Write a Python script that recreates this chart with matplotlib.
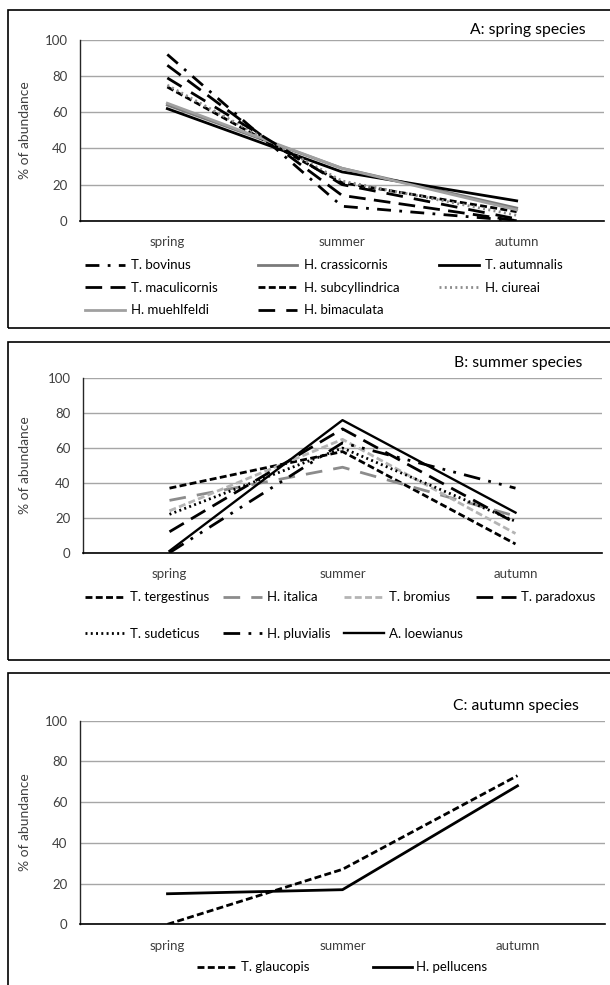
import matplotlib
matplotlib.use('Agg')
import matplotlib.pyplot as plt
from matplotlib.patches import Rectangle

# seasons on the x axis
seasons = ['spring', 'summer', 'autumn']

# A: spring species (% of abundance per season)
a_names = ['T. bovinus', 'H. crassicornis', 'T. autumnalis', 'T. maculicornis',
           'H. subcyllindrica', 'H. ciureai', 'H. muehlfeldi', 'H. bimaculata']
a_bovinus = [92, 8, 0]
a_crassicornis = [64, 29, 7]
a_autumnalis = [62, 27, 11]
a_maculicornis = [86, 14, 0]
a_subcyllindrica = [74, 21, 5]
a_ciureai = [75, 22, 3]
a_muehlfeldi = [65, 29, 6]
a_bimaculata = [79, 20, 1]

# B: summer species
b_names = ['T. tergestinus', 'H. italica', 'T. bromius', 'T. paradoxus',
           'T. sudeticus', 'H. pluvialis', 'A. loewianus']
b_tergestinus = [37, 58, 5]
b_italica = [30, 49, 21]
b_bromius = [24, 65, 11]
b_paradoxus = [12, 71, 17]
b_sudeticus = [22, 60, 18]
b_pluvialis = [0, 63, 37]
b_loewianus = [1, 76, 23]

# C: autumn species
c_names = ['T. glaucopis', 'H. pellucens']
c_glaucopis = [0, 27, 73]
c_pellucens = [15, 17, 68]

plt.rcParams['font.family'] = ['Lato', 'DejaVu Sans']

W, H = 610, 985
fig = plt.figure(figsize=(W / 100, H / 100), dpi=100)

def fx(px):
    return px / W

def fy(px):
    return 1 - px / H

# panel frames
for top, bot in [(10, 328), (342, 660), (673, 992)]:
    fig.patches.append(Rectangle((fx(8), fy(bot)), fx(612) - fx(8), fy(top) - fy(bot),
                                 transform=fig.transFigure, fill=False,
                                 edgecolor='black', linewidth=1.2))

FS = 9.5

def make_axes(left, right, top, bottom):
    ax = fig.add_axes([fx(left), fy(bottom), fx(right) - fx(left), fy(top) - fy(bottom)])
    ax.set_xlim(-0.5, 2.5)
    ax.set_ylim(0, 100)
    ax.set_yticks(range(0, 101, 20))
    ax.set_xticks(range(3))
    ax.set_xticklabels(seasons)
    ax.tick_params(length=0, labelsize=FS, colors='#404040')
    ax.tick_params(axis='x', pad=11)
    ax.tick_params(axis='y', pad=9)
    ax.yaxis.grid(True, color='#a6a6a6', linewidth=1.0)
    ax.set_axisbelow(True)
    for s in ['top', 'right']:
        ax.spines[s].set_visible(False)
    ax.spines['left'].set_color('#262626')
    ax.spines['left'].set_linewidth(1.0)
    ax.spines['bottom'].set_color('black')
    ax.spines['bottom'].set_linewidth(1.2)
    ax.set_ylabel('% of abundance', fontsize=10, color='#404040')
    ax.yaxis.set_label_coords(-(left - 31) / (right - left), 0.5)
    return ax

x = range(3)
LW = 2.0

# ---- A ----
axA = make_axes(80, 604, 40, 220.7)
a_styles = [
    (a_bovinus, 'black', (0, (5, 3, 1, 3))),
    (a_crassicornis, '#7a7a7a', '-'),
    (a_autumnalis, 'black', '-'),
    (a_maculicornis, 'black', (0, (6, 3))),
    (a_subcyllindrica, 'black', (0, (2.5, 1.2))),
    (a_ciureai, '#8c8c8c', (0, (0.7, 1.2))),
    (a_muehlfeldi, '#a0a0a0', '-'),
    (a_bimaculata, 'black', (0, (6, 4))),
]
la = []
for (vals, col, ls), nm in zip(a_styles, a_names):
    ln, = axA.plot(x, vals, color=col, linestyle=ls, linewidth=LW, label=nm)
    la.append(ln)
order = [0, 3, 6, 1, 4, 7, 2, 5]
axA.legend([la[i] for i in order], [a_names[i] for i in order], ncol=3,
           loc='upper left', bbox_to_anchor=(fx(80), fy(254)),
           bbox_transform=fig.transFigure, frameon=False, fontsize=FS,
           handlelength=3.0, handletextpad=0.5, columnspacing=3.0,
           labelspacing=0.79, borderaxespad=0)
fig.text(fx(586), fy(30), 'A: spring species', ha='right', va='center', fontsize=11.3)

# ---- B ----
axB = make_axes(83, 602, 378.3, 552.7)
b_styles = [
    (b_tergestinus, 'black', (0, (2.5, 1.2))),
    (b_italica, '#8c8c8c', (0, (6, 4))),
    (b_bromius, '#b4b4b4', (0, (2.5, 1.2))),
    (b_paradoxus, 'black', (0, (6, 3))),
    (b_sudeticus, 'black', (0, (0.7, 1.2))),
    (b_pluvialis, 'black', (0, (6, 3, 1, 3, 1, 3))),
    (b_loewianus, 'black', '-'),
]
lb = []
for (vals, col, ls), nm in zip(b_styles, b_names):
    ln, = axB.plot(x, vals, color=col, linestyle=ls,
                   linewidth=1.7 if ls == '-' else LW, label=nm)
    lb.append(ln)
order = [0, 4, 1, 5, 2, 6, 3]
axB.legend([lb[i] for i in order], [b_names[i] for i in order], ncol=4,
           loc='upper left', bbox_to_anchor=(fx(80), fy(586)),
           bbox_transform=fig.transFigure, frameon=False, fontsize=FS,
           handlelength=3.0, handletextpad=0.4, columnspacing=1.0,
           labelspacing=1.85, borderaxespad=0)
fig.text(fx(582), fy(363), 'B: summer species', ha='right', va='center', fontsize=11.3)

# ---- C ----
axC = make_axes(80, 605, 720.7, 924.3)
axC.plot(x, c_glaucopis, color='black', linestyle=(0, (2.5, 1.2)), linewidth=LW, label=c_names[0])
axC.plot(x, c_pellucens, color='black', linestyle='-', linewidth=LW, label=c_names[1])
axC.legend(ncol=2, loc='upper left', bbox_to_anchor=(fx(192), fy(956)),
           bbox_transform=fig.transFigure, frameon=False, fontsize=FS,
           handlelength=3.0, handletextpad=0.3, columnspacing=4.8, borderaxespad=0)
fig.text(fx(579), fy(706), 'C: autumn species', ha='right', va='center', fontsize=11.3)

fig.savefig('out.png', dpi=100)
